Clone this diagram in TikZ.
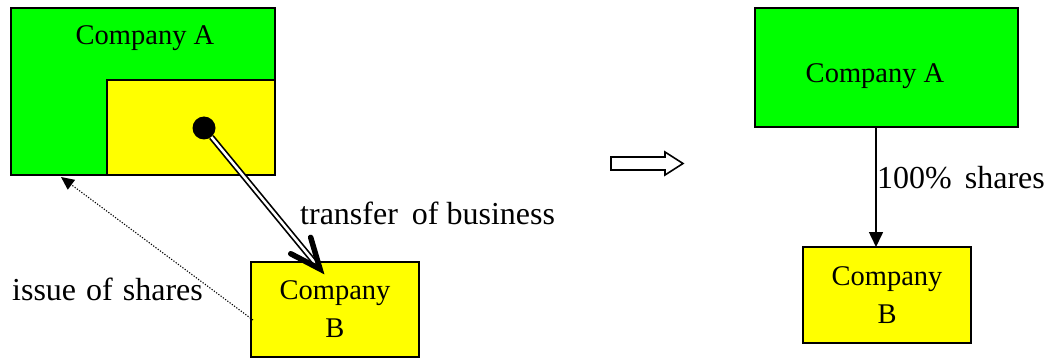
\documentclass[tikz,border=0pt]{standalone}
\usepackage{fontspec}
\setmainfont{Liberation Serif}
\usetikzlibrary{arrows.meta,calc}
\definecolor{cgreen}{RGB}{0,255,0}
\definecolor{cyellow}{RGB}{255,255,0}
\begin{document}
\begin{tikzpicture}[x=1pt,y=-1pt,
  box/.style={draw=black,line width=2pt,inner sep=0pt,outer sep=0pt},
  gbox/.style={box,fill=cgreen},
  ybox/.style={box,fill=cyellow},
  boxtext/.style={font=\fontsize{28.5}{38}\selectfont,align=center},
  ttext/.style={font=\fontsize{28.5}{38}\selectfont,inner sep=0pt,anchor=base},
  lbl/.style={font=\fontsize{32}{38}\selectfont,inner sep=0pt,anchor=base west},
  vhead/.style={line width=5.5pt,line cap=round,line join=miter},
]
\useasboundingbox (0,0) rectangle (1049,358);
% left group
\node[gbox,minimum width=264pt,minimum height=167pt] (A1) at (143,91.5) {};
\node[ybox,minimum width=168pt,minimum height=95pt] (Y1) at (191,127.5) {};
\node[ttext] (A1t) at (145,45) {Company A};
\node[ybox,boxtext,minimum width=168pt,minimum height=95pt] (B1) at (335,309.5) {Company\\B};
\node[circle,fill=black,minimum size=23pt,inner sep=0pt] (dot) at (204,128) {};
\coordinate (tip) at (320,269);
\draw[line width=1.7pt,double=white,double distance=2.5pt,shorten >=4pt] (dot) -- (tip);
\draw[vhead] ($(tip)!33pt!23:(dot.center)$) -- (tip) -- ($(tip)!33pt!-23:(dot.center)$);
\coordinate (ds) at (253,320);
\coordinate (de) at (61,177);
\draw[line width=1.1pt,dash pattern=on 1.2pt off 1.6pt,-{Triangle[length=13pt,width=12pt]}] (ds) -- (de);
\node[lbl] (ltr) at (300,225) {transfer\hspace{6pt} of business};
\node[lbl] (lis) at (12,300) {issue\hspace{2pt} of\hspace{2pt} shares};
% hollow arrow
\draw[line width=1.6pt] (611,157) -- (665,157) -- (665,152) -- (683,163.5) -- (665,175) -- (665,170) -- (611,170) -- cycle;
% right group
\node[gbox,minimum width=263pt,minimum height=119pt] (A2) at (886.5,67.5) {};
\node[ttext] (A2t) at (875,83) {Company A};
\node[ybox,boxtext,minimum width=168pt,minimum height=96pt] (B2) at (887,295) {Company\\B};
\coordinate (xr) at (876,0);
\draw[line width=1.6pt,-{Triangle[length=15pt,width=14pt]}] (A2.south -| xr) -- (B2.north -| xr);
\node[lbl] (lsh) at (877,189) {100\%\hspace{5pt} shares};
\end{tikzpicture}
\end{document}
